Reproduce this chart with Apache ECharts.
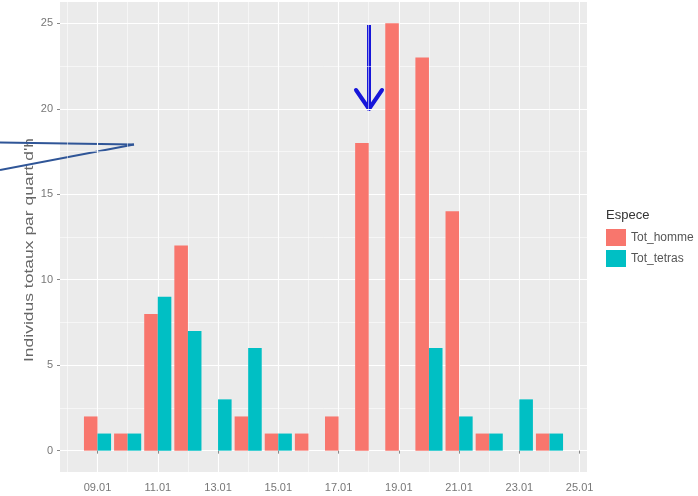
<!DOCTYPE html>
<html>
<head>
<meta charset="utf-8">
<script src="https://cdn.jsdelivr.net/npm/echarts@6/dist/echarts.min.js"></script>
<style>
  html, body { margin: 0; padding: 0; background: #fff; }
  #chart { width: 698px; height: 496px; }
</style>
</head>
<body>
<div id="chart"></div>
<script>
  // jours de janvier
  const days = [9, 10, 11, 12, 13, 14, 15, 16, 17, 18, 19, 20, 21, 22, 23, 24];
  const totHomme = [2, 1, 8, 12, 0, 2, 1, 1, 2, 18, 25, 23, 14, 1, 0, 1];
  const totTetras = [1, 1, 9, 7, 3, 6, 1, 0, 0, 0, 0, 6, 2, 1, 3, 1];

  const xBreaks = [9, 11, 13, 15, 17, 19, 21, 23, 25];
  const xMinorBreaks = [8, 10, 12, 14, 16, 18, 20, 22, 24];
  const yBreaks = [0, 5, 10, 15, 20, 25];
  const yMinorBreaks = [2.5, 7.5, 12.5, 17.5, 22.5];

  const seriesNames = ['Tot_homme', 'Tot_tetras'];
  const colors = ['#F8766D', '#00BFC4'];

  // expansion facon ggplot (5%)
  const xLo = days[0] - 0.45, xHi = days[days.length - 1] + 0.45;
  const xPad = (xHi - xLo) * 0.05;
  const yPad = 25 * 0.05;

  const font = 'Liberation Sans, Arial, sans-serif';
  const chart = echarts.init(document.getElementById('chart'));

  const fmtDay = v => String(v).padStart(2, '0') + '.01';

  chart.setOption({
    animation: false,
    textStyle: { fontFamily: font },
    title: {
      text: 'Espece',
      left: 606, top: 209, padding: 0,
      textStyle: { fontSize: 13, fontWeight: 'normal', color: '#333', fontFamily: font }
    },
    legend: {
      data: seriesNames,
      orient: 'vertical',
      left: 606, top: 229,
      padding: 0,
      icon: 'rect',
      itemWidth: 20, itemHeight: 17, itemGap: 4,
      textStyle: { fontSize: 12, color: '#555', fontFamily: font }
    },
    grid: {
      left: 60, right: 111, top: 2, bottom: 24,
      show: true, backgroundColor: '#EBEBEB', borderWidth: 0
    },
    xAxis: [{
      type: 'value',
      min: xLo - xPad, max: xHi + xPad,
      axisLine: { show: false },
      axisTick: { show: true, length: 3, customValues: xBreaks, lineStyle: { color: '#888' } },
      axisLabel: { customValues: xBreaks, formatter: fmtDay, fontSize: 11, color: '#777', margin: 10 },
      splitLine: { show: true, lineStyle: { color: '#fff', width: 1.1 } }
    }, {
      type: 'value',
      position: 'bottom',
      min: xLo - xPad, max: xHi + xPad,
      axisLine: { show: false },
      axisTick: { show: false, customValues: xMinorBreaks },
      axisLabel: { show: false },
      splitLine: { show: true, lineStyle: { color: '#fff', width: 0.55 } }
    }],
    yAxis: [{
      type: 'value',
      min: -yPad, max: 25 + yPad,
      axisLine: { show: false },
      axisTick: { show: true, length: 3, customValues: yBreaks, lineStyle: { color: '#888' } },
      axisLabel: { customValues: yBreaks, fontSize: 11, color: '#777', margin: 7 },
      splitLine: { show: true, lineStyle: { color: '#fff', width: 1.1 } }
    }, {
      type: 'value',
      position: 'left',
      min: -yPad, max: 25 + yPad,
      axisLine: { show: false },
      axisTick: { show: false, customValues: yMinorBreaks },
      axisLabel: { show: false },
      splitLine: { show: true, lineStyle: { color: '#fff', width: 0.55 } }
    }],
    series: [totHomme, totTetras].map((vals, i) => ({
      name: seriesNames[i],
      type: 'bar',
      xAxisIndex: 0, yAxisIndex: 0,
      barWidth: '45%',
      barGap: '0%',
      itemStyle: { color: colors[i] },
      data: days.map((d, k) => [d, vals[k]])
    })),
    graphic: [
      {
        // titre de l'axe y (etire dans l'image d'origine)
        type: 'text',
        x: 30, y: 250,
        rotation: Math.PI / 2,
        scaleX: 1.4,
        style: {
          text: "Individus totaux par quart d'h",
          fontSize: 12.5, fontFamily: font, fill: '#666',
          align: 'center', verticalAlign: 'middle'
        }
      },
      {
        // fleche bleue
        type: 'rect',
        shape: { x: 367, y: 25, width: 4, height: 82 },
        style: { fill: '#1616D9' }
      },
      {
        type: 'polyline',
        shape: { points: [[356, 90], [369, 109], [382, 90]] },
        style: { stroke: '#1616D9', lineWidth: 4, fill: null, lineJoin: 'round', lineCap: 'round' }
      },
      {
        // traits de la bulle
        type: 'line',
        shape: { x1: 0, y1: 142.5, x2: 134, y2: 144.5 },
        style: { stroke: '#2F5597', lineWidth: 2 }
      },
      {
        type: 'line',
        shape: { x1: 0, y1: 170, x2: 134, y2: 144.5 },
        style: { stroke: '#2F5597', lineWidth: 2 }
      }
    ]
  });
</script>
</body>
</html>
